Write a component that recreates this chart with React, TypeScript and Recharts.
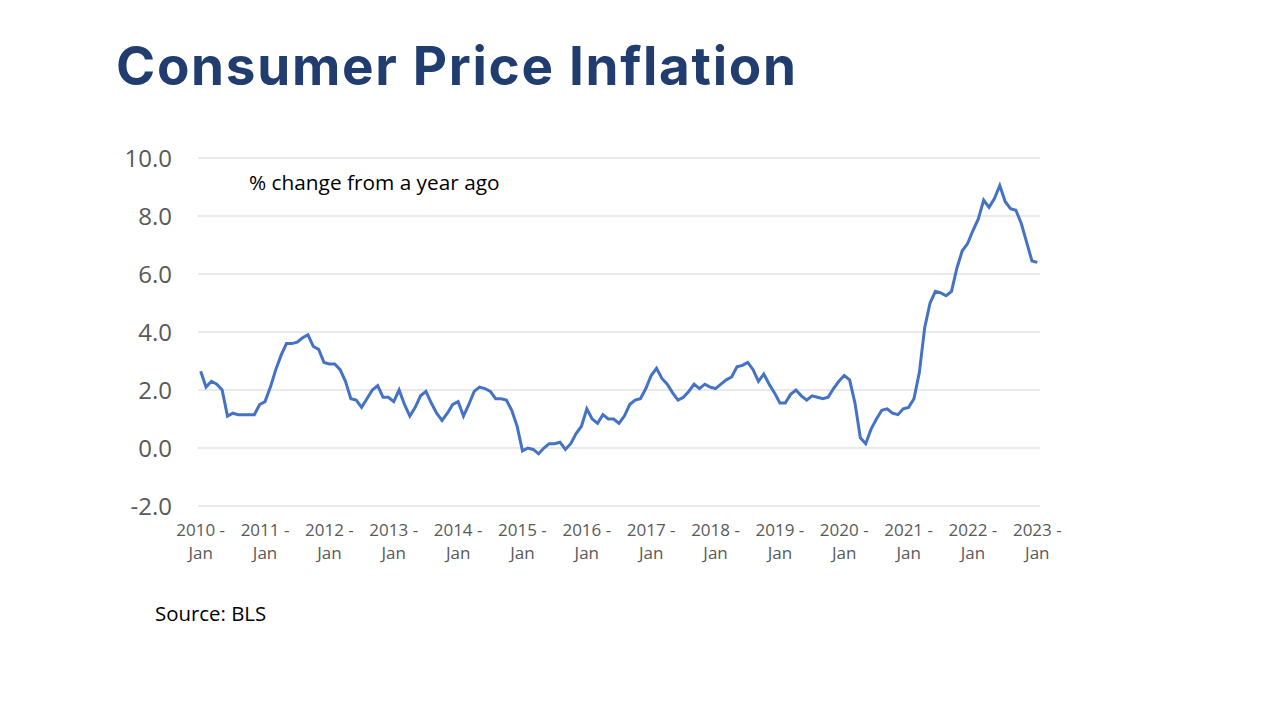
import { LineChart, Line, XAxis, YAxis, CartesianGrid } from 'recharts'

// tick labels on the category axis (one per January)
const years = ['2010', '2011', '2012', '2013', '2014', '2015', '2016', '2017', '2018', '2019', '2020', '2021', '2022', '2023']
const yTicks = [-2, 0, 2, 4, 6, 8, 10]

// CPI, % change from a year ago, monthly Jan 2010 .. Jan 2023
const cpi = [
  2.65, 2.1, 2.3, 2.2, 2.0, 1.1, 1.2, 1.15, 1.15, 1.15, 1.15, 1.5, // 2010
  1.6, 2.1, 2.7, 3.2, 3.6, 3.6, 3.65, 3.8, 3.9, 3.5, 3.4, 2.95, // 2011
  2.9, 2.9, 2.7, 2.3, 1.7, 1.65, 1.4, 1.7, 2.0, 2.15, 1.75, 1.75, // 2012
  1.6, 2.0, 1.5, 1.1, 1.4, 1.8, 1.95, 1.55, 1.2, 0.95, 1.2, 1.5, // 2013
  1.6, 1.1, 1.5, 1.95, 2.1, 2.05, 1.95, 1.7, 1.7, 1.65, 1.3, 0.75, // 2014
  -0.1, 0.0, -0.05, -0.2, 0.0, 0.15, 0.15, 0.2, -0.05, 0.15, 0.5, 0.75, // 2015
  1.35, 1.0, 0.85, 1.15, 1.0, 1.0, 0.85, 1.1, 1.5, 1.65, 1.7, 2.05, // 2016
  2.5, 2.75, 2.4, 2.2, 1.9, 1.65, 1.75, 1.95, 2.2, 2.05, 2.2, 2.1, // 2017
  2.05, 2.2, 2.35, 2.45, 2.8, 2.85, 2.95, 2.7, 2.3, 2.55, 2.2, 1.9, // 2018
  1.55, 1.55, 1.85, 2.0, 1.8, 1.65, 1.8, 1.75, 1.7, 1.75, 2.05, 2.3, // 2019
  2.5, 2.35, 1.55, 0.35, 0.15, 0.65, 1.0, 1.3, 1.35, 1.2, 1.15, 1.35, // 2020
  1.4, 1.7, 2.6, 4.15, 5.0, 5.4, 5.35, 5.25, 5.4, 6.2, 6.8, 7.05, // 2021
  7.5, 7.9, 8.55, 8.3, 8.6, 9.05, 8.5, 8.25, 8.2, 7.75, 7.1, 6.45, // 2022
  6.4, // 2023
]

const data = cpi.map((v, i) => ({ i, v }))
const xTicks = years.map((_, k) => k * 12)

const FONT = '"Open Sans", sans-serif'

const YearTick = ({ x, y, payload }: any) => {
  const year = years[Math.round(payload.value / 12)]
  return (
    <text x={x} y={y} textAnchor="middle" fill="#595959" fontSize={17} fontFamily={FONT}>
      <tspan x={x} dy={22}>{year} -</tspan>
      <tspan x={x} dy={23}>Jan</tspan>
    </text>
  )
}

export default function App() {
  return (
    <div style={{ position: 'absolute', left: 0, top: 0, width: 1280, height: 720, background: '#fff', overflow: 'hidden' }}>
      <div
        style={{
          position: 'absolute', left: 116, top: 34, fontFamily: 'Inter, sans-serif', fontWeight: 700,
          fontSize: 53, color: '#213D6F', whiteSpace: 'nowrap', letterSpacing: 1.7,
        }}
      >
        Consumer Price Inflation
      </div>

      <LineChart
        width={1280}
        height={720}
        data={data}
        margin={{ top: 158, right: 240, bottom: 154, left: 118 }}
        style={{ position: 'absolute', left: 0, top: 0 }}
      >
        <CartesianGrid horizontal vertical={false} stroke="#D3D3D3" strokeWidth={1} />
        <XAxis
          type="number"
          dataKey="i"
          domain={[-0.5, cpi.length - 0.5]}
          ticks={xTicks}
          interval={0}
          axisLine={false}
          tickLine={false}
          height={60}
          tick={<YearTick />}
        />
        <YAxis
          type="number"
          domain={[-2, 10]}
          ticks={yTicks}
          interval={0}
          width={80}
          axisLine={false}
          tickLine={false}
          tickSize={0}
          tickMargin={26}
          tickFormatter={(v: number) => v.toFixed(1)}
          tick={{ fill: '#595959', fontSize: 24, fontFamily: FONT }}
        />
        <Line
          type="linear"
          dataKey="v"
          stroke="#4472C4"
          strokeWidth={3}
          dot={false}
          isAnimationActive={false}
        />
      </LineChart>

      <div style={{ position: 'absolute', left: 249, top: 168, fontFamily: FONT, fontSize: 20.8, color: '#000', whiteSpace: 'nowrap' }}>
        % change from a year ago
      </div>
      <div style={{ position: 'absolute', left: 155, top: 599, fontFamily: FONT, fontSize: 20.4, color: '#000', whiteSpace: 'nowrap' }}>
        Source: BLS
      </div>
    </div>
  )
}
